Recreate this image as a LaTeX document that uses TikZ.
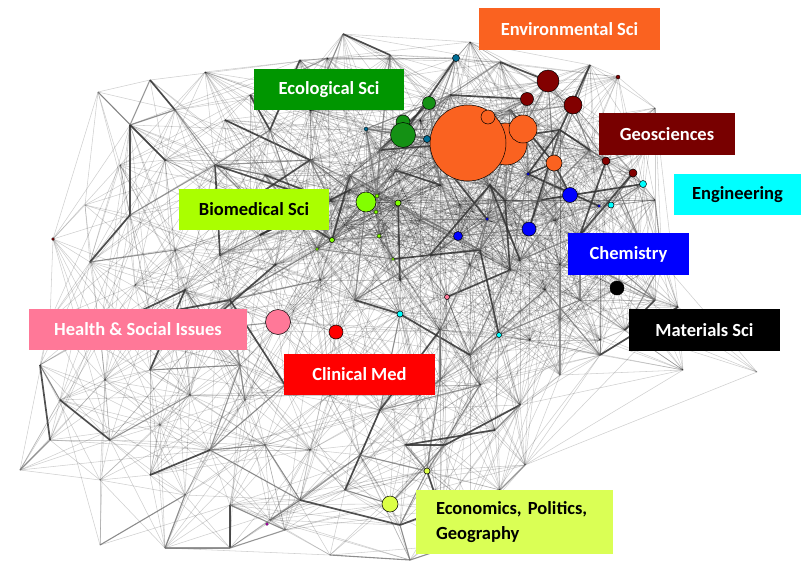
\documentclass[tikz,border=0pt]{standalone}
\usepackage{fontspec}
\setmainfont{Carlito}
\frenchspacing
\definecolor{cOrange}{RGB}{250,98,32}
\definecolor{cEco}{RGB}{0,150,0}
\definecolor{cEcoN}{RGB}{20,145,20}
\definecolor{cGeo}{RGB}{120,0,0}
\definecolor{cGeoN}{RGB}{130,0,0}
\definecolor{cCyan}{RGB}{0,255,255}
\definecolor{cBio}{RGB}{170,255,0}
\definecolor{cBioN}{RGB}{130,255,0}
\definecolor{cBlue}{RGB}{0,0,255}
\definecolor{cPink}{RGB}{255,120,152}
\definecolor{cRed}{RGB}{255,0,0}
\definecolor{cEcon}{RGB}{218,255,85}
\definecolor{cEconN}{RGB}{220,255,70}
\definecolor{cTeal}{RGB}{0,110,150}
\definecolor{cMag}{RGB}{200,0,200}
\begin{document}
\begin{tikzpicture}[x=1pt,y=-1pt,
  lbl/.style={font=\fontsize{18.5}{22}\selectfont\bfseries, inner sep=0pt, text=white},
  nd/.style={circle, draw=black, line width=0.5pt, inner sep=0pt},
  lite/.style={draw=black, opacity=0.19, line width=0.55pt},
  midedge/.style={draw=black!55, opacity=0.75, line width=1.1pt},
  darkedge/.style={draw=black!80, opacity=0.85, line width=1.7pt}]
\useasboundingbox (0,0) rectangle (801,576);
\pgfmathsetseed{11}
\foreach \x/\y [count=\i] in {
98/92,150/80,205/72,250/95,327/58,343/34,300/60,390/55,470/42,
456/58,500/62,548/81,527/99,573/105,590/65,618/77,655/108,645/150,633/173,643/184,655/200,611/205,640/240,662/262,655/300,625/330,678/307,683/370,757/372,
130/125,175/110,225/120,270/130,310/110,366/129,403/135,429/103,427/139,468/143,506/144,523/129,488/117,554/163,606/161,570/195,599/206,528/174,487/219,529/229,458/236,617/288,
120/165,165/160,215/165,265/175,310/160,350/175,395/170,440/185,490/185,540/200,580/235,
85/205,130/215,175/250,220/255,260/235,300/220,332/240,317/249,366/202,377/196,398/203,375/212,379/237,393/259,345/225,350/190,
90/262,53/239,135/285,185/290,230/300,275/265,320/280,355/300,400/280,447/297,470/265,510/270,545/290,580/300,600/340,
50/320,100/330,150/315,200/330,240/365,278/322,336/332,400/314,440/330,499/335,470/355,530/340,560/320,
40/365,20/470,60/400,105/380,150/370,190/395,245/400,285/385,330/395,380/410,420/395,440/380,480/385,520/405,560/375,600/355,
50/440,110/440,160/425,210/450,265/445,310/450,360/455,405/445,445/445,495/430,525/465,
100/480,150/475,185/495,230/505,270/520,300/500,345/490,390/504,427/471,440/510,470/505,500/490,
100/545,165/548,230/548,285/530,330/555,400/525,410/560,455/545,
420/120,450/95,510/110,560/130,590/150,440/160,380/150,330/200,290/190,250/200,420/220,460/205,505/200,555/220,430/255,480/250,520/260,560/265,600/270}{
  \coordinate (p\i) at (\x,\y);
  \expandafter\xdef\csname px\i\endcsname{\x}
  \expandafter\xdef\csname py\i\endcsname{\y}
  \xdef\NP{\i}
}
% light edges
\foreach \i in {1,...,\NP}{
  \foreach \j in {1,...,\NP}{
    \ifnum\j>\i\relax
      \pgfmathsetmacro\dd{veclen(\csname px\i\endcsname-\csname px\j\endcsname,\csname py\i\endcsname-\csname py\j\endcsname)}
      \pgfmathsetmacro\rr{rnd}
      \pgfmathsetmacro\lim{0.95-\dd/240}
      \ifdim\rr pt<\lim pt \draw[lite] (p\i) -- (p\j);
      \else\ifdim\dd pt<340pt\ifdim\rr pt>0.97pt \draw[lite] (p\i) -- (p\j);\fi\fi\fi
    \fi
  }
}
% darker edges
\foreach \i in {1,...,\NP}{
  \foreach \j in {1,...,\NP}{
    \ifnum\j>\i\relax
      \pgfmathsetmacro\dd{veclen(\csname px\i\endcsname-\csname px\j\endcsname,\csname py\i\endcsname-\csname py\j\endcsname)}
      \pgfmathsetmacro\rr{rnd}
      \ifdim\dd pt<105pt
        \ifdim\rr pt<0.045pt \draw[darkedge] (p\i) -- (p\j);
        \else\ifdim\rr pt<0.13pt \draw[midedge] (p\i) -- (p\j);\fi\fi
      \fi
    \fi
  }
}
% circles
\node[nd, fill=cOrange, minimum size=42pt] (o2) at (506,144) {};
\node[nd, fill=cOrange, minimum size=76pt] (o1) at (468,143) {};
\node[nd, fill=cOrange, minimum size=28pt] (o3) at (523,129) {};
\node[nd, fill=cOrange, minimum size=14pt] (o4) at (488,117) {};
\node[nd, fill=cOrange, minimum size=16pt] (o5) at (554,163) {};
\node[nd, fill=cEcoN, minimum size=14pt] (g2) at (403,122) {};
\node[nd, fill=cEcoN, minimum size=25pt] (g1) at (403,135) {};
\node[nd, fill=cEcoN, minimum size=13pt] (g3) at (429,103) {};
\node[nd, fill=cTeal, minimum size=7pt] (t1) at (456,58) {};
\node[nd, fill=cTeal, minimum size=4pt, line width=0.3pt] (t2) at (366,129) {};
\node[nd, fill=cTeal, minimum size=7pt] (t3) at (427,139) {};
\node[nd, fill=cGeoN, minimum size=22pt] (r1) at (548,81) {};
\node[nd, fill=cGeoN, minimum size=13pt] (r2) at (527,99) {};
\node[nd, fill=cGeoN, minimum size=18pt] (r3) at (573,105) {};
\node[nd, fill=cGeoN, minimum size=4pt, line width=0.3pt] (r4) at (618,77) {};
\node[nd, fill=cGeoN, minimum size=8pt] (r5) at (606,161) {};
\node[nd, fill=cGeoN, minimum size=8pt] (r6) at (633,173) {};
\node[nd, fill=cGeoN, minimum size=3pt, line width=0.3pt] (r7) at (53,239) {};
\node[nd, fill=cCyan, minimum size=7pt] (c1) at (643,184) {};
\node[nd, fill=cCyan, minimum size=6pt] (c2) at (611,205) {};
\node[nd, fill=cCyan, minimum size=6pt] (c3) at (400,314) {};
\node[nd, fill=cCyan, minimum size=5pt] (c4) at (499,335) {};
\node[nd, fill=cBlue, minimum size=15pt] (b1) at (570,195) {};
\node[nd, fill=cBlue, minimum size=14pt] (b2) at (529,229) {};
\node[nd, fill=cBlue, minimum size=9pt] (b3) at (458,236) {};
\node[nd, fill=cBlue, minimum size=3pt, line width=0.3pt] (b4) at (528,174) {};
\node[nd, fill=cBlue, minimum size=3pt, line width=0.3pt] (b5) at (487,219) {};
\node[nd, fill=cBlue, minimum size=3pt, line width=0.3pt] (b6) at (599,206) {};
\node[nd, fill=cBioN, minimum size=20pt] (v1) at (366,202) {};
\node[nd, fill=cBioN, minimum size=4pt, line width=0.3pt] (v2) at (377,196) {};
\node[nd, fill=cBioN, minimum size=6pt] (v3) at (398,203) {};
\node[nd, fill=cBioN, minimum size=4pt, line width=0.3pt] (v4) at (376,212) {};
\node[nd, fill=cBioN, minimum size=4pt, line width=0.3pt] (v5) at (379,236) {};
\node[nd, fill=cBioN, minimum size=5pt] (v6) at (332,240) {};
\node[nd, fill=cBioN, minimum size=3pt, line width=0.3pt] (v7) at (317,249) {};
\node[nd, fill=cBioN, minimum size=3pt, line width=0.3pt] (v8) at (393,259) {};
\node[nd, fill=cPink, minimum size=25pt] (k1) at (278,322) {};
\node[nd, fill=cPink, minimum size=5pt] (k2) at (447,297) {};
\node[nd, fill=cRed, minimum size=14pt] (d1) at (336,332) {};
\node[nd, fill=black, minimum size=14pt] (m1) at (617,288) {};
\node[nd, fill=cEconN, minimum size=16pt] (e1) at (390,504) {};
\node[nd, fill=cEconN, minimum size=6pt] (e2) at (427,471) {};
\node[nd, fill=cMag, minimum size=3pt, line width=0.3pt] (e3) at (267,524) {};
% labels
\node[lbl, fill=cOrange, minimum width=181pt, minimum height=42pt] (env) at (569.5,29) {Environmental Sci};
\node[lbl, fill=cEco, minimum width=150pt, minimum height=41pt] (eco) at (329,89.5) {Ecological Sci};
\node[lbl, fill=cGeo, minimum width=136pt, minimum height=42pt] (geo) at (667,134) {Geosciences};
\node[lbl, fill=cCyan, text=black, minimum width=127pt, minimum height=41pt] (eng) at (737.5,194.5) {Engineering};
\node[lbl, fill=cBio, text=black, minimum width=150pt, minimum height=41pt] (bio) at (254,209.5) {Biomedical Sci};
\node[lbl, fill=cBlue, minimum width=121pt, minimum height=42pt] (chem) at (628.5,254) {Chemistry};
\node[lbl, fill=cPink, minimum width=218pt, minimum height=41pt] (hea) at (138,329.5) {Health \& Social Issues};
\node[lbl, fill=black, minimum width=151pt, minimum height=42pt] (mat) at (704.5,330) {Materials Sci};
\node[lbl, fill=cRed, minimum width=151pt, minimum height=41pt] (cli) at (359.5,374.5) {Clinical Med};
\node[lbl, fill=cEcon, text=black, minimum width=197pt, minimum height=64pt, inner xsep=20pt, text width=157pt, align=left, font=\fontsize{18.5}{25}\selectfont\bfseries] (eco2) at (514.5,522) {Economics, Politics,\\Geography};
\end{tikzpicture}
\end{document}
